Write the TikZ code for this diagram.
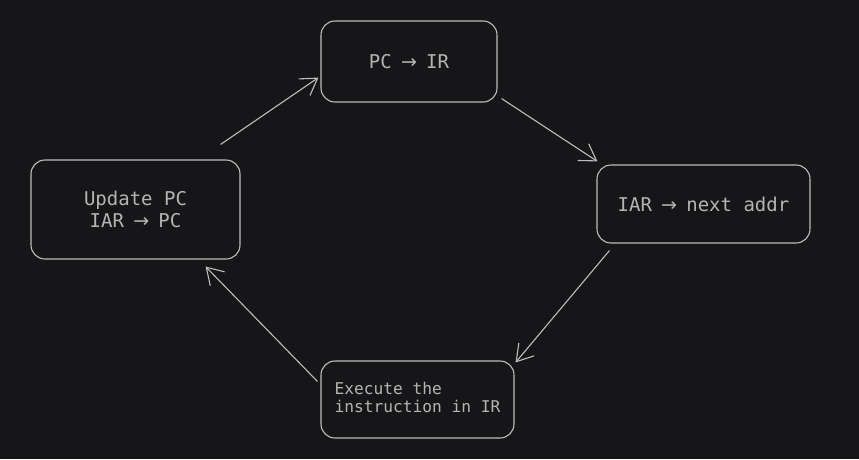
\documentclass[tikz,border=0pt]{standalone}
\usepackage{fontspec}
\setmonofont{DejaVu Sans Mono}
\newfontfamily\arrfont{DejaVu Sans}
\newcommand{\myarr}{\makebox[0.602em][c]{\arrfont →}}
\usetikzlibrary{arrows.meta,calc}
\definecolor{bg}{HTML}{161618}
\definecolor{ink}{HTML}{BDBDBD}
\definecolor{txt}{HTML}{B4B4B4}
\tikzset{
  box/.style={draw=ink, line width=1.1pt, rounded corners=14pt, inner sep=0pt, text=txt, font=\ttfamily\fontsize{19}{22}\selectfont, align=center},
  conn/.style={draw=ink, line width=1.1pt, -{Straight Barb[length=16pt,width=20pt,line width=1.1pt]}},
}
\begin{document}
\begin{tikzpicture}[x=1pt,y=-1pt]
\fill[bg] (0,0) rectangle (859,459);
\useasboundingbox (0,0) rectangle (859,459);
\node[box, minimum width=176pt, minimum height=81pt] (pcir) at (409,61.5) {PC \myarr{} IR};
\node[box, minimum width=209pt, minimum height=99pt] (upd) at (135.5,209.5) {Update PC\\IAR \myarr{} PC};
\node[box, minimum width=213pt, minimum height=78pt] (nxt) at (703.5,204) {IAR \myarr{} next addr};
\node[box, minimum width=193pt, minimum height=77pt, align=none, font=\ttfamily\fontsize{16.2}{20}\selectfont] (exe) at (417.5,399.5) {\raisebox{3pt}{\begin{tabular}{@{}l@{}}Execute the\\[-2pt]instruction in IR\end{tabular}}};
\draw[conn] ($(upd.north east)+(-20,-15)$) -- ($(pcir.south west)+(-2,-25)$);
\draw[conn] ($(pcir.south east)+(4,-4)$) -- ($(nxt.north west)+(1,-3)$);
\draw[conn] ($(nxt.south west)+(13,7)$) -- ($(exe.north east)+(1,2)$);
\draw[conn] ($(exe.north west)+(-3,21)$) -- ($(upd.south east)+(-35,7)$);
\end{tikzpicture}
\end{document}
